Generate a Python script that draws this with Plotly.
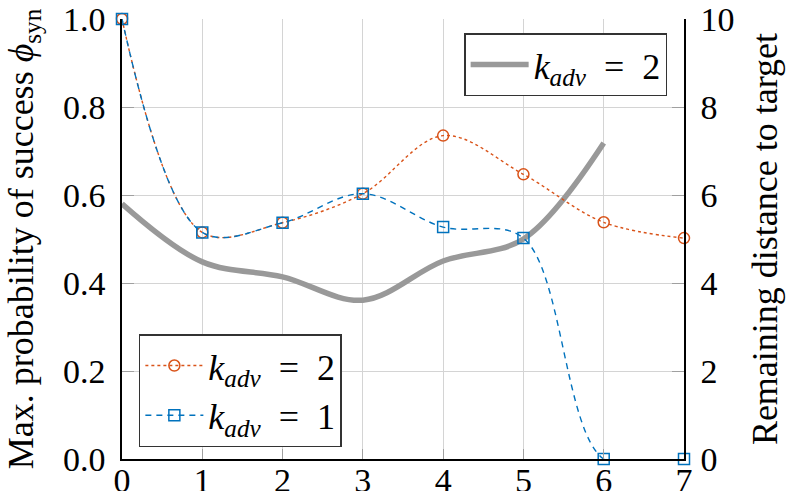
import plotly.graph_objects as go

x = [0, 1, 2, 3, 4, 5, 6, 7]
prob_k2 = [1.0, 0.515, 0.537, 0.603, 0.735, 0.647, 0.538, 0.502]
prob_k1 = [1.0, 0.515, 0.537, 0.603, 0.527, 0.502, 0.0, 0.0]
x_dist = [0, 1, 2, 3, 4, 5, 6]
dist_k2 = [5.8, 4.48, 4.14, 3.61, 4.5, 5.0, 7.18]

FONT = "Liberation Serif"
FS = 34
FT = 36
FL = 36
lbl2 = "<i>k</i><sub><i>adv</i></sub>&nbsp; = &nbsp;2"
lbl1 = "<i>k</i><sub><i>adv</i></sub>&nbsp; = &nbsp;1"

fig = go.Figure()
fig.add_trace(go.Scatter(
    x=x_dist, y=dist_k2, mode="lines", name=lbl2, yaxis="y",
    line=dict(color="#999999", width=5.5, shape="spline", smoothing=1.0),
    legend="legend2"))
fig.add_trace(go.Scatter(
    x=x, y=prob_k2, mode="lines+markers", name=lbl2, yaxis="y2",
    line=dict(color="#D95319", width=1.4, dash="dot", shape="spline", smoothing=1.0),
    marker=dict(symbol="circle-open", size=11, color="#D95319", line=dict(width=1.5)),
    cliponaxis=False, legend="legend"))
fig.add_trace(go.Scatter(
    x=x, y=prob_k1, mode="lines+markers", name=lbl1, yaxis="y2",
    line=dict(color="#0072BD", width=1.4, dash="6px,5px", shape="spline", smoothing=1.0),
    marker=dict(symbol="square-open", size=11, color="#0072BD", line=dict(width=1.5)),
    cliponaxis=False, legend="legend"))

fig.update_layout(
    width=787, height=491,
    margin=dict(l=122, r=103, t=19, b=32, autoexpand=False),
    paper_bgcolor="white", plot_bgcolor="white",
    font=dict(family=FONT, size=FS, color="black"),
    xaxis=dict(range=[0, 7], dtick=1, showgrid=True, gridcolor="#d4d4d4", gridwidth=1,
               showline=True, linecolor="black", linewidth=1.5, zeroline=False,
               ticks="inside", ticklen=10, tickcolor="#a0a0a0", tickwidth=1,
               tickfont=dict(family=FONT, size=FS, color="black"), ticklabelstandoff=-10, automargin=False),
    yaxis=dict(range=[0, 10], dtick=2, side="right", showgrid=False,
               showline=True, linecolor="black", linewidth=1.5, zeroline=False,
               ticks="inside", ticklen=12, tickcolor="#a0a0a0", tickwidth=1,
               tickfont=dict(family=FONT, size=FS, color="black"), ticklabelstandoff=8, automargin=False,
               title=dict(text="Remaining distance to target", font=dict(family=FONT, size=FT, color="black"), standoff=18)),
    yaxis2=dict(range=[0, 1], dtick=0.2, tickformat=".1f", side="left", overlaying="y",
                showgrid=True, gridcolor="#d4d4d4", gridwidth=1,
                showline=True, linecolor="black", linewidth=1.5, zeroline=False,
                ticks="inside", ticklen=12, tickcolor="#a0a0a0", tickwidth=1,
                tickfont=dict(family=FONT, size=FS, color="black"), ticklabelstandoff=8, automargin=False,
                title=dict(text="Max. probability of success <i>ϕ</i><sub>syn</sub>",
                           font=dict(family=FONT, size=FT, color="black"), standoff=18)),
    legend=dict(x=0.03, y=0.027, xanchor="left", yanchor="bottom",
                bgcolor="white", bordercolor="#333333", borderwidth=1.5,
                font=dict(family=FONT, size=FL, color="black"), itemwidth=58, tracegroupgap=0),
    legend2=dict(x=0.97, y=0.968, xanchor="right", yanchor="top",
                 bgcolor="white", bordercolor="#333333", borderwidth=1.5,
                 font=dict(family=FONT, size=FL, color="black"), itemwidth=58),
    showlegend=True,
)

fig.write_html("out.html")
